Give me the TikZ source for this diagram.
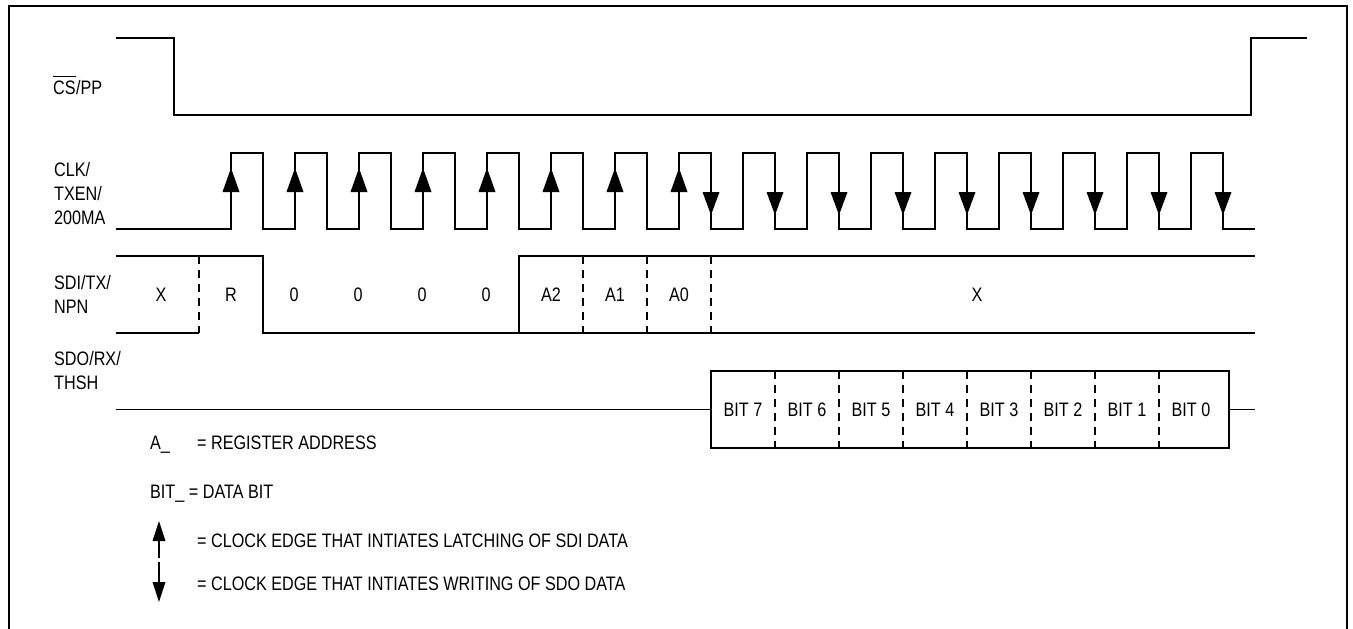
\documentclass[tikz,border=0pt]{standalone}
\usepackage{fontspec}
\setmainfont[FakeStretch=0.83]{Liberation Sans}
\begin{document}
\begin{tikzpicture}[x=1pt,y=-1pt,
  sig/.style={line width=1.3pt, line join=miter},
  dsh/.style={line width=1.3pt, dash pattern=on 8pt off 6pt},
  frm/.style={line width=2pt},
  lbl/.style={font=\fontsize{19.5}{24}\selectfont, inner sep=0pt, anchor=base west},
  val/.style={font=\fontsize{19.5}{24}\selectfont, inner sep=0pt, anchor=center}]
\useasboundingbox (0,0) rectangle (1353,629);
% frame
\draw[frm] (9,640) -- (9,6) -- (1347,6) -- (1347,640);

% labels
\node[lbl] (csb) at (53,94) {CS};
\node[lbl, anchor=base west] (pp) at (csb.base east) {/PP};
\draw[line width=1pt] ([yshift=3.5pt]csb.north west) -- ([yshift=3.5pt]csb.north east);
\node[lbl] (clka) at (54,176) {CLK/};
\node[lbl] (clkb) at (54,200) {TXEN/};
\node[lbl] (clkc) at (54,224) {200MA};
\node[lbl] (sdia) at (54,289) {SDI/TX/};
\node[lbl] (sdib) at (54,313) {NPN};
\node[lbl] (sdoa) at (54,365) {SDO/RX/};
\node[lbl] (sdob) at (54,389) {THSH};

% CS waveform
\draw[sig] (116,38) -- (174,38) -- (174,115) -- (1251,115) -- (1251,38) -- (1307,38);

% CLK waveform
\draw[sig] (116,229) foreach \k in {0,...,15}{ -- ({231+64*\k},229) -- ({231+64*\k},153) -- ({263+64*\k},153) -- ({263+64*\k},229)} -- (1255,229);
\foreach \k in {0,...,7}{
  \fill ({231+64*\k},168) -- ({231+64*\k-8.5},192) -- ({231+64*\k+8.5},192) -- cycle;
}
\foreach \k in {7,...,15}{
  \fill ({263+64*\k},215) -- ({263+64*\k-8.5},192) -- ({263+64*\k+8.5},192) -- cycle;
}

% SDI waveform
\draw[sig] (116,256) -- (263,256) -- (263,333) -- (1255,333);
\draw[sig] (519,333) -- (519,256) -- (1255,256);
\draw[sig] (116,333) -- (199,333);
\foreach \x in {199,583,647,711}{
  \draw[dsh] (\x,256) -- (\x,333);
}
\node[val] (sx) at (161,294.5) {X};
\node[val] (sr) at (231,294.5) {R};
\node[val] (s0a) at (294,294.5) {0};
\node[val] (s0b) at (358,294.5) {0};
\node[val] (s0c) at (422,294.5) {0};
\node[val] (s0d) at (486,294.5) {0};
\node[val] (sa2) at (551,294.5) {A2};
\node[val] (sa1) at (615,294.5) {A1};
\node[val] (sa0) at (679,294.5) {A0};
\node[val] (sxx) at (977,294.5) {X};

% SDO waveform
\draw[sig] (116,409.5) -- (711,409.5);
\draw[sig] (711,371) rectangle (1229,448);
\draw[sig] (1229,409.5) -- (1255,409.5);
\foreach \x in {775,839,903,967,1031,1095,1159}{
  \draw[dsh] (\x,371) -- (\x,448);
}
\foreach \b [count=\i from 0] in {7,6,5,4,3,2,1,0}{
  \node[val] (bit\b) at ({743+64*\i},409.5) {BIT \b};
}

% legend
\node[lbl] (la) at (150,449) {A\_};
\node[lbl] (lat) at (197,449) {= REGISTER ADDRESS};
\node[lbl] (lb) at (150,498) {BIT\_ = DATA BIT};
\coordinate (upb) at (159,558);
\coordinate (uph) at (159,541);
\draw[line width=1.3pt] (upb) -- (uph);
\fill (159,521) -- (152.5,541) -- (165.5,541) -- cycle;
\node[lbl] (lup) at (197,547) {= CLOCK EDGE THAT INTIATES LATCHING OF SDI DATA};
\coordinate (dnt) at (159,562);
\coordinate (dnh) at (159,582);
\draw[line width=1.3pt] (dnt) -- (dnh);
\fill (159,602) -- (152.5,582) -- (165.5,582) -- cycle;
\node[lbl] (ldn) at (197,590) {= CLOCK EDGE THAT INTIATES WRITING OF SDO DATA};
\end{tikzpicture}
\end{document}
